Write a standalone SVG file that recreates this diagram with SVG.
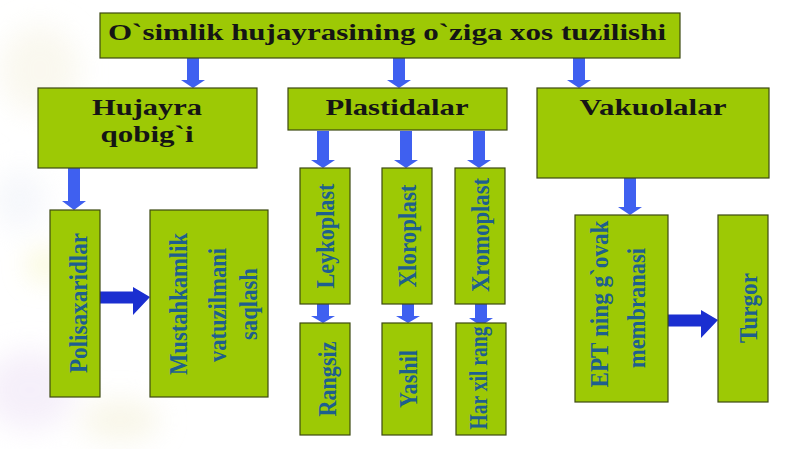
<svg xmlns="http://www.w3.org/2000/svg" width="800" height="449" viewBox="0 0 800 449">
<defs>
<style>
.box{fill:#9dc905;stroke:#3d4a12;stroke-width:1.2}
.ttl{font-family:"Liberation Serif","Times New Roman",serif;font-weight:bold;font-size:23px;fill:#151515;text-anchor:middle}
.vt{font-family:"Liberation Serif","Times New Roman",serif;font-weight:bold;font-size:26px;fill:#1e5f8e;text-anchor:middle}
.da{fill:#3f60f0}
.ha{fill:#1b2fd0}
</style>
<filter id="blur" x="-50%" y="-50%" width="200%" height="200%"><feGaussianBlur stdDeviation="14"/></filter>
</defs>
<rect width="800" height="449" fill="#ffffff"/>
<g id="background" filter="url(#blur)" opacity="0.55">
<ellipse cx="40" cy="70" rx="40" ry="45" fill="#f6f3e2"/>
<ellipse cx="45" cy="265" rx="16" ry="16" fill="#f4f2b0"/>
<ellipse cx="30" cy="390" rx="45" ry="40" fill="#eee3f6"/>
<ellipse cx="120" cy="420" rx="40" ry="20" fill="#f3efd6"/>
<ellipse cx="20" cy="200" rx="25" ry="30" fill="#eef1f8"/>
</g>
<g id="connectors">
<path class="da" d="M187,58H199V80H205L193,88L181,80H187Z"/>
<path class="da" d="M393,58H405V80H411L399,88L387,80H393Z"/>
<path class="da" d="M573,58H585V80H591L579,88L567,80H573Z"/>
<path class="da" d="M68,168H80V201H86L74,210L62,201H68Z"/>
<path class="da" d="M317,131H329V160H335L323,168L311,160H317Z"/>
<path class="da" d="M400,131H412V160H418L406,168L394,160H400Z"/>
<path class="da" d="M473,131H485V160H491L479,168L467,160H473Z"/>
<path class="da" d="M624,178H636V207H642L630,215L618,207H624Z"/>
<path class="da" d="M317,304H329V316H335L323,323L311,316H317Z"/>
<path class="da" d="M402,304H414V316H420L408,323L396,316H402Z"/>
<path class="da" d="M475,304H487V318H493L481,326L469,318H475Z"/>
<path class="ha" d="M100,291.5H133V287L150,297L133,315V303.5H100Z"/>
<path class="ha" d="M668,314.5H701V310L718,320L701,338V326.5H668Z"/>
</g>
<g id="title">
<rect class="box" x="100" y="13" width="580" height="45"/>
<text class="ttl" x="387" y="40" textLength="558" lengthAdjust="spacingAndGlyphs">O`simlik hujayrasining o`ziga xos tuzilishi</text>
</g>
<g id="hujayra">
<rect class="box" x="38" y="88" width="219" height="80"/>
<text class="ttl" x="147" y="115" textLength="110" lengthAdjust="spacingAndGlyphs">Hujayra</text>
<text class="ttl" x="147" y="142" textLength="93" lengthAdjust="spacingAndGlyphs">qobig`i</text>
</g>
<g id="plastidalar">
<rect class="box" x="288" y="88" width="219" height="42"/>
<text class="ttl" x="397" y="115" textLength="143" lengthAdjust="spacingAndGlyphs">Plastidalar</text>
</g>
<g id="vakuolalar">
<rect class="box" x="537" y="88" width="232" height="90"/>
<text class="ttl" x="653" y="115" textLength="147" lengthAdjust="spacingAndGlyphs">Vakuolalar</text>
</g>
<g id="polisaxaridlar">
<rect class="box" x="50" y="210" width="50" height="187"/>
<text class="vt" transform="translate(87,303) rotate(-90)" textLength="140" lengthAdjust="spacingAndGlyphs">Polisaxaridlar</text>
</g>
<g id="mustahkamlik">
<rect class="box" x="150" y="210" width="118" height="187"/>
<text class="vt" transform="translate(187,304) rotate(-90)" textLength="142" lengthAdjust="spacingAndGlyphs">Mustahkamlik</text>
<text class="vt" transform="translate(226,305) rotate(-90)" textLength="114" lengthAdjust="spacingAndGlyphs">vatuzilmani</text>
<text class="vt" transform="translate(257,304) rotate(-90)" textLength="72" lengthAdjust="spacingAndGlyphs">saqlash</text>
</g>
<g id="leykoplast">
<rect class="box" x="300" y="168" width="50" height="136"/>
<text class="vt" transform="translate(334,236) rotate(-90)" textLength="105" lengthAdjust="spacingAndGlyphs">Leykoplast</text>
</g>
<g id="xloroplast">
<rect class="box" x="382" y="168" width="50" height="136"/>
<text class="vt" transform="translate(416,236) rotate(-90)" textLength="103" lengthAdjust="spacingAndGlyphs">Xloroplast</text>
</g>
<g id="xromoplast">
<rect class="box" x="455" y="168" width="50" height="136"/>
<text class="vt" transform="translate(489,235) rotate(-90)" textLength="114" lengthAdjust="spacingAndGlyphs">Xromoplast</text>
</g>
<g id="rangsiz">
<rect class="box" x="300" y="323" width="50" height="112"/>
<text class="vt" transform="translate(336,379) rotate(-90)" textLength="75" lengthAdjust="spacingAndGlyphs">Rangsiz</text>
</g>
<g id="yashil">
<rect class="box" x="382" y="323" width="50" height="112"/>
<text class="vt" transform="translate(417,379) rotate(-90)" textLength="58" lengthAdjust="spacingAndGlyphs">Yashil</text>
</g>
<g id="harxilrang">
<rect class="box" x="456" y="323" width="50" height="112"/>
<text class="vt" transform="translate(487,378) rotate(-90)" textLength="103" lengthAdjust="spacingAndGlyphs">Har xil rang</text>
</g>
<g id="ept">
<rect class="box" x="575" y="215" width="93" height="187"/>
<text class="vt" transform="translate(608,304) rotate(-90)" textLength="167" lengthAdjust="spacingAndGlyphs">EPT ning g`ovak</text>
<text class="vt" transform="translate(645,308) rotate(-90)" textLength="120" lengthAdjust="spacingAndGlyphs">membranasi</text>
</g>
<g id="turgor">
<rect class="box" x="718" y="215" width="50" height="187"/>
<text class="vt" transform="translate(757,308) rotate(-90)" textLength="70" lengthAdjust="spacingAndGlyphs">Turgor</text>
</g>
</svg>
